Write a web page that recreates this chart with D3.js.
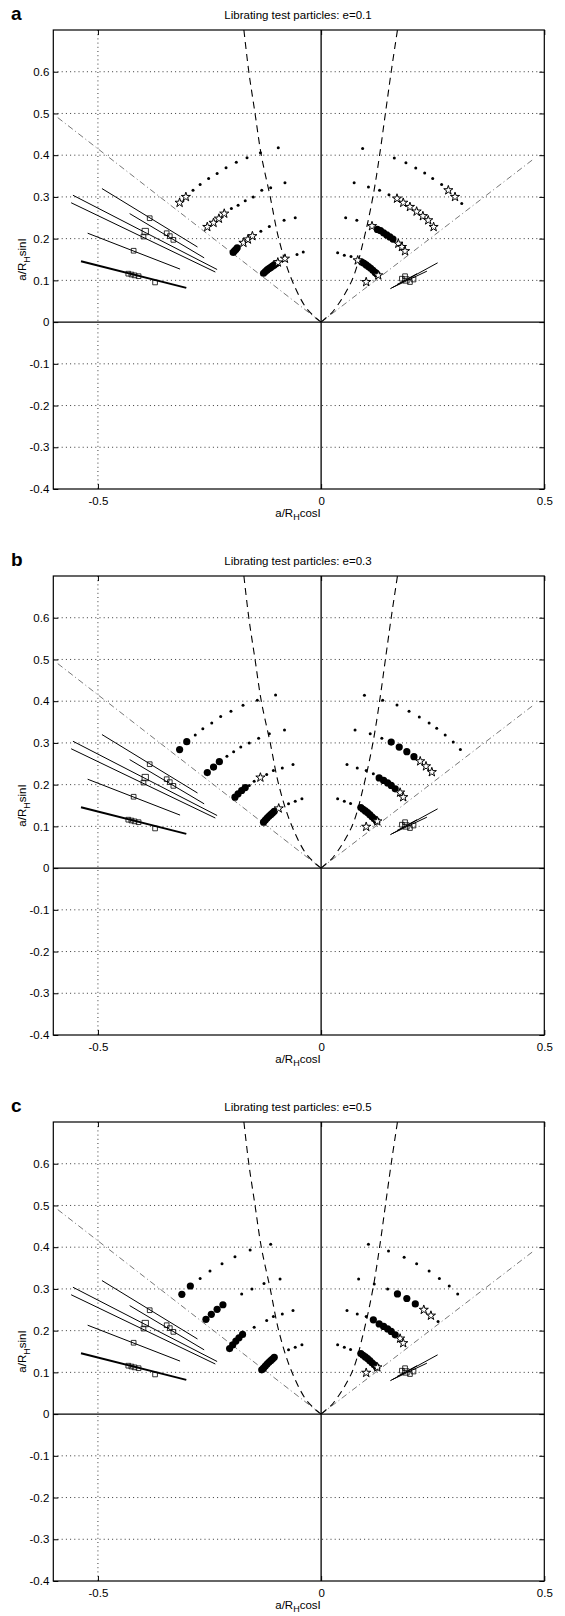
<!DOCTYPE html>
<html>
<head>
<meta charset="utf-8">
<script src="https://cdn.jsdelivr.net/npm/d3@7"></script>
<style>
  body { margin: 0; background: #fff; }
  svg text { font-family: "Liberation Sans", Arial, Helvetica, sans-serif; fill: #000; }
</style>
</head>
<body>
<svg id="fig" width="565" height="1616"></svg>
<script>
// ---- axes ----
const xDomain = [-0.6, 0.5];
const yDomain = [-0.4, 0.7];
const xTicks = [-0.5, 0, 0.5];
const yTicks = [-0.4, -0.3, -0.2, -0.1, 0, 0.1, 0.2, 0.3, 0.4, 0.5, 0.6];
const panelLetters = ["a", "b", "c"];
const panelTitles = [
  "Librating test particles: e=0.1",
  "Librating test particles: e=0.3",
  "Librating test particles: e=0.5"
];

// ---- reference curves (shared by all panels) ----
// critical-inclination lines through the origin (dash-dot)
const critLeft = [[-0.59, 0.49], [0, 0]];
const critRight = [[0, 0], [0.475, 0.39]];
// dashed boundary curves
const dashedLeft = [[0, 0], [-0.013, 0.011], [-0.036, 0.038], [-0.069, 0.11], [-0.095, 0.2],
  [-0.114, 0.3], [-0.134, 0.4], [-0.148, 0.5], [-0.162, 0.6], [-0.173, 0.7]];
const dashedRight = [[0, 0], [0.012, 0.011], [0.027, 0.026], [0.069, 0.1], [0.096, 0.2],
  [0.116, 0.3], [0.131, 0.4], [0.144, 0.5], [0.157, 0.6], [0.171, 0.7]];

// ---- irregular-satellite tracks (shared) ----
const tracksLeft = [
  [[-0.491, 0.320], [-0.277, 0.180]],
  [[-0.556, 0.304], [-0.233, 0.126]],
  [[-0.560, 0.286], [-0.237, 0.120]],
  [[-0.523, 0.213], [-0.316, 0.127]],
  [[-0.429, 0.260], [-0.262, 0.154]]
];
const trackThick = [[-0.538, 0.146], [-0.302, 0.082]];
const tracksRight = [
  [[0.155, 0.080], [0.261, 0.142]],
  [[0.158, 0.082], [0.237, 0.122]],
  [[0.170, 0.090], [0.215, 0.116]]
];
const satSquares = [
  [-0.384, 0.249], [-0.346, 0.213], [-0.339, 0.206], [-0.331, 0.197],
  [-0.398, 0.205], [-0.420, 0.171],
  [-0.432, 0.116], [-0.425, 0.114], [-0.418, 0.112], [-0.409, 0.110], [-0.372, 0.095],
  [0.181, 0.104], [0.188, 0.110], [0.199, 0.096], [0.207, 0.102]
];
const satSquaresLarge = [[-0.394, 0.217], [0.190, 0.101]];

// ---- panel a: e = 0.1 ----
const dotsA = [
  [-0.287, 0.316], [-0.271, 0.330], [-0.252, 0.344], [-0.233, 0.356], [-0.213, 0.370],
  [-0.190, 0.383], [-0.166, 0.394], [-0.136, 0.406], [-0.096, 0.418],
  [-0.201, 0.272], [-0.186, 0.280], [-0.170, 0.291], [-0.152, 0.300], [-0.133, 0.316],
  [-0.113, 0.322], [-0.081, 0.334],
  [-0.135, 0.218], [-0.116, 0.229], [-0.083, 0.244], [-0.058, 0.250],
  [-0.054, 0.162], [-0.040, 0.168],
  [0.093, 0.416], [0.164, 0.393], [0.190, 0.382], [0.212, 0.369], [0.232, 0.357],
  [0.250, 0.344], [0.270, 0.330], [0.315, 0.284],
  [0.074, 0.334], [0.106, 0.324], [0.131, 0.316], [0.152, 0.305],
  [0.055, 0.250], [0.080, 0.244],
  [0.037, 0.166], [0.052, 0.160], [0.067, 0.157]
];
const starsA = [
  [-0.317, 0.286], [-0.303, 0.300],
  [-0.255, 0.228], [-0.241, 0.238], [-0.229, 0.248], [-0.217, 0.260],
  [-0.174, 0.190], [-0.164, 0.198], [-0.154, 0.206],
  [-0.097, 0.143], [-0.081, 0.152],
  [0.285, 0.316], [0.300, 0.300],
  [0.170, 0.296], [0.184, 0.286], [0.199, 0.276], [0.214, 0.265], [0.228, 0.254],
  [0.240, 0.244], [0.252, 0.228],
  [0.114, 0.230], [0.173, 0.188], [0.181, 0.180], [0.188, 0.170],
  [0.082, 0.148], [0.128, 0.112], [0.101, 0.096]
];
const discsA = [
  [-0.197, 0.167], [-0.194, 0.171], [-0.191, 0.174], [-0.188, 0.178],
  [-0.129, 0.117], [-0.125, 0.121], [-0.121, 0.125], [-0.117, 0.128], [-0.113, 0.131],
  [-0.109, 0.134], [-0.105, 0.137], [-0.101, 0.140],
  [0.126, 0.222], [0.133, 0.219], [0.140, 0.214], [0.147, 0.209], [0.154, 0.204], [0.161, 0.199],
  [0.091, 0.144], [0.096, 0.141], [0.101, 0.137], [0.106, 0.133], [0.111, 0.129],
  [0.116, 0.124], [0.121, 0.119], [0.125, 0.115]
];

// ---- panel b: e = 0.3 ----
const dotsB = [
  [-0.282, 0.319], [-0.265, 0.334], [-0.245, 0.348], [-0.225, 0.363], [-0.202, 0.376],
  [-0.175, 0.390], [-0.143, 0.402], [-0.102, 0.415],
  [-0.211, 0.268], [-0.196, 0.279], [-0.180, 0.290], [-0.161, 0.300], [-0.140, 0.311],
  [-0.116, 0.322], [-0.082, 0.331],
  [-0.161, 0.198], [-0.150, 0.208], [-0.122, 0.224], [-0.107, 0.234], [-0.087, 0.240], [-0.063, 0.248],
  [-0.073, 0.154], [-0.058, 0.160], [-0.043, 0.166],
  [0.097, 0.414], [0.138, 0.402], [0.170, 0.391], [0.197, 0.376], [0.220, 0.362],
  [0.242, 0.348], [0.259, 0.335], [0.278, 0.319], [0.296, 0.302], [0.312, 0.284],
  [0.076, 0.331], [0.110, 0.322], [0.136, 0.311],
  [0.058, 0.248], [0.081, 0.240], [0.101, 0.234], [0.117, 0.226],
  [0.037, 0.166], [0.052, 0.160], [0.066, 0.155]
];
const starsB = [
  [-0.136, 0.217], [-0.095, 0.143],
  [0.222, 0.256], [0.235, 0.244], [0.248, 0.230],
  [0.177, 0.181], [0.184, 0.170],
  [0.126, 0.112], [0.101, 0.099]
];
const discsB = [
  [-0.317, 0.284], [-0.301, 0.303],
  [-0.255, 0.229], [-0.241, 0.242], [-0.228, 0.255],
  [-0.193, 0.170], [-0.186, 0.178], [-0.178, 0.186], [-0.170, 0.193],
  [-0.129, 0.110], [-0.125, 0.115], [-0.121, 0.120], [-0.117, 0.124], [-0.113, 0.128],
  [-0.109, 0.132], [-0.105, 0.136],
  [0.157, 0.302], [0.175, 0.290], [0.192, 0.279], [0.208, 0.267],
  [0.130, 0.216], [0.140, 0.210], [0.149, 0.204], [0.157, 0.198], [0.166, 0.190],
  [0.089, 0.145], [0.094, 0.141], [0.099, 0.137], [0.104, 0.133], [0.109, 0.128],
  [0.114, 0.123], [0.119, 0.118], [0.124, 0.113]
];

// ---- panel c: e = 0.5 ----
const dotsC = [
  [-0.271, 0.325], [-0.249, 0.343], [-0.222, 0.360], [-0.193, 0.377], [-0.159, 0.393], [-0.113, 0.407],
  [-0.178, 0.288], [-0.155, 0.300], [-0.128, 0.313], [-0.092, 0.324],
  [-0.150, 0.208], [-0.122, 0.224], [-0.107, 0.234], [-0.087, 0.240], [-0.063, 0.248],
  [-0.073, 0.154], [-0.058, 0.160], [-0.043, 0.166],
  [0.106, 0.407], [0.151, 0.391], [0.186, 0.376], [0.214, 0.360], [0.242, 0.343],
  [0.265, 0.325], [0.287, 0.307], [0.306, 0.288],
  [0.084, 0.324], [0.119, 0.312], [0.149, 0.300], [0.262, 0.222],
  [0.058, 0.248], [0.081, 0.240], [0.101, 0.234],
  [0.037, 0.166], [0.052, 0.160], [0.066, 0.155]
];
const starsC = [
  [0.230, 0.250], [0.246, 0.236],
  [0.177, 0.181], [0.184, 0.170],
  [0.126, 0.112], [0.101, 0.099]
];
const discsC = [
  [-0.312, 0.287], [-0.293, 0.307],
  [-0.258, 0.227], [-0.246, 0.239], [-0.233, 0.251], [-0.220, 0.262],
  [-0.205, 0.157], [-0.198, 0.166], [-0.191, 0.175], [-0.184, 0.183], [-0.176, 0.191],
  [-0.133, 0.106], [-0.129, 0.110], [-0.125, 0.115], [-0.121, 0.120], [-0.117, 0.124],
  [-0.113, 0.128], [-0.109, 0.132], [-0.105, 0.136],
  [0.171, 0.288], [0.192, 0.277], [0.211, 0.264],
  [0.117, 0.226], [0.130, 0.216], [0.140, 0.210], [0.149, 0.204], [0.157, 0.198], [0.166, 0.190],
  [0.089, 0.145], [0.094, 0.141], [0.099, 0.137], [0.104, 0.133], [0.109, 0.128],
  [0.114, 0.123], [0.119, 0.118], [0.124, 0.113]
];

const panels = [
  { dots: dotsA, stars: starsA, discs: discsA },
  { dots: dotsB, stars: starsB, discs: discsB },
  { dots: dotsC, stars: starsC, discs: discsC }
];

// ---- layout ----
const plotLeft = 53.3, plotRight = 544.3, plotH = 459;
const panelTops = [30, 576, 1122];

const x = d3.scaleLinear().domain(xDomain).range([plotLeft, plotRight]);
const y = d3.scaleLinear().domain(yDomain).range([plotH, 0]);
const fmt = d => (d === 0 ? "0" : String(d));

const svg = d3.select("#fig");
const line = d3.line().x(d => x(d[0])).y(d => y(d[1]));
const curve = d3.line().x(d => x(d[0])).y(d => y(d[1])).curve(d3.curveCatmullRom.alpha(0.5));

panels.forEach((p, i) => {
  const g = svg.append("g").attr("transform", `translate(0,${panelTops[i]})`);

  g.append("text").attr("x", 11).attr("y", -10)
    .attr("font-size", 19).attr("font-weight", "bold").text(panelLetters[i]);
  g.append("text").attr("x", 298).attr("y", -11).attr("text-anchor", "middle")
    .attr("font-size", 11.5).text(panelTitles[i]);

  const clipId = "clip" + i;
  g.append("clipPath").attr("id", clipId).append("rect")
    .attr("x", plotLeft).attr("y", 0).attr("width", plotRight - plotLeft).attr("height", plotH);
  const plot = g.append("g").attr("clip-path", `url(#${clipId})`);

  // dotted grid
  plot.selectAll(".hg").data(yTicks.filter(v => v !== 0 && v !== -0.4)).join("line")
    .attr("x1", plotLeft).attr("x2", plotRight)
    .attr("y1", d => y(d)).attr("y2", d => y(d))
    .attr("stroke", "#222").attr("stroke-width", 0.9).attr("stroke-dasharray", "1,3.2");
  plot.selectAll(".vg").data(xTicks.filter(v => v < 0)).join("line")
    .attr("x1", d => x(d)).attr("x2", d => x(d)).attr("y1", 0).attr("y2", plotH)
    .attr("stroke", "#222").attr("stroke-width", 0.9).attr("stroke-dasharray", "1,3.2");

  // zero lines
  plot.append("line").attr("x1", plotLeft).attr("x2", plotRight)
    .attr("y1", y(0)).attr("y2", y(0)).attr("stroke", "#000").attr("stroke-width", 1.3);
  plot.append("line").attr("x1", x(0)).attr("x2", x(0))
    .attr("y1", 0).attr("y2", plotH).attr("stroke", "#000").attr("stroke-width", 1.3);

  // critical inclination lines
  [critLeft, critRight].forEach(c => plot.append("path").attr("d", line(c))
    .attr("fill", "none").attr("stroke", "#666").attr("stroke-width", 0.9)
    .attr("stroke-dasharray", "6,3,1,3"));
  // dashed curves
  [dashedLeft, dashedRight].forEach(c => plot.append("path").attr("d", curve(c))
    .attr("fill", "none").attr("stroke", "#000").attr("stroke-width", 1.1)
    .attr("stroke-dasharray", "7,5"));

  // satellite tracks
  tracksLeft.concat(tracksRight).forEach(t => plot.append("path").attr("d", line(t))
    .attr("fill", "none").attr("stroke", "#000").attr("stroke-width", 1));
  plot.append("path").attr("d", line(trackThick))
    .attr("fill", "none").attr("stroke", "#000").attr("stroke-width", 2);
  plot.selectAll(".sq").data(satSquares).join("path")
    .attr("transform", d => `translate(${x(d[0])},${y(d[1])})`)
    .attr("d", d3.symbol(d3.symbolSquare, 22))
    .attr("fill", "none").attr("stroke", "#000").attr("stroke-width", 0.8);
  plot.selectAll(".sqL").data(satSquaresLarge).join("path")
    .attr("transform", d => `translate(${x(d[0])},${y(d[1])})`)
    .attr("d", d3.symbol(d3.symbolSquare, 40))
    .attr("fill", "none").attr("stroke", "#000").attr("stroke-width", 0.8);

  // test particles
  plot.selectAll(".dot").data(p.dots).join("circle")
    .attr("cx", d => x(d[0])).attr("cy", d => y(d[1])).attr("r", 1.5).attr("fill", "#000");
  plot.selectAll(".disc").data(p.discs).join("circle")
    .attr("cx", d => x(d[0])).attr("cy", d => y(d[1])).attr("r", 3.6).attr("fill", "#000");
  plot.selectAll(".star").data(p.stars).join("path")
    .attr("transform", d => `translate(${x(d[0])},${y(d[1])})`)
    .attr("d", d3.symbol(d3.symbolStar, 26))
    .attr("fill", "#fff").attr("stroke", "#000").attr("stroke-width", 1);

  // axes with inward ticks
  const axL = g.append("g").attr("transform", `translate(${plotLeft},0)`)
    .call(d3.axisLeft(y).tickValues(yTicks).tickFormat(fmt).tickSizeInner(-5).tickSizeOuter(0).tickPadding(4));
  const axR = g.append("g").attr("transform", `translate(${plotRight},0)`)
    .call(d3.axisRight(y).tickValues(yTicks).tickFormat("").tickSizeInner(-5).tickSizeOuter(0));
  const axB = g.append("g").attr("transform", `translate(0,${plotH})`)
    .call(d3.axisBottom(x).tickValues(xTicks).tickFormat(fmt).tickSizeInner(-5).tickSizeOuter(0).tickPadding(8));
  const axT = g.append("g")
    .call(d3.axisTop(x).tickValues(xTicks).tickFormat("").tickSizeInner(-5).tickSizeOuter(0));
  [axL, axR, axB, axT].forEach(a => {
    a.select(".domain").remove();
    a.selectAll("line").attr("stroke", "#000");
    a.selectAll("text").attr("font-size", 11.5).attr("font-family", "Liberation Sans, Arial, sans-serif");
  });

  g.append("rect").attr("x", plotLeft).attr("y", 0)
    .attr("width", plotRight - plotLeft).attr("height", plotH)
    .attr("fill", "none").attr("stroke", "#000").attr("stroke-width", 1.2);

  // axis labels
  const xl = g.append("text").attr("x", 298).attr("y", plotH + 27.5)
    .attr("text-anchor", "middle").attr("font-size", 11.5);
  xl.append("tspan").text("a/R");
  xl.append("tspan").attr("font-size", 9).attr("dy", 3).text("H");
  xl.append("tspan").attr("dy", -3).text("cosI");

  const yl = g.append("text")
    .attr("transform", `translate(26,${plotH / 2})rotate(-90)`)
    .attr("text-anchor", "middle").attr("font-size", 11.5);
  yl.append("tspan").text("a/R");
  yl.append("tspan").attr("font-size", 9).attr("dy", 4).text("H");
  yl.append("tspan").attr("dy", -4).text("sinI");
});
</script>
</body>
</html>
